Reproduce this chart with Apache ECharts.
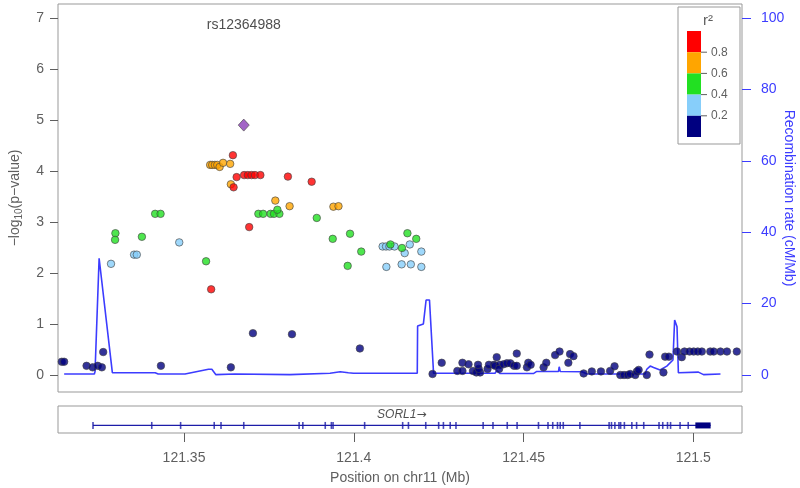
<!DOCTYPE html>
<html>
<head>
<meta charset="utf-8">
<script src="https://cdn.jsdelivr.net/npm/echarts@6/dist/echarts.min.js"></script>
<style>
html, body { margin: 0; padding: 0; background: #fff; }
#chart { width: 800px; height: 488px; }
</style>
</head>
<body>
<div id="chart"></div>
<script>
// SNPs: [position (Mb), -log10(p)] grouped by r2 with the index SNP
const snpsR2_0 = [
  [121.3140, 0.26], [121.3147, 0.26], [121.3213, 0.18], [121.3231, 0.15], [121.3246, 0.18],
  [121.3258, 0.15], [121.3262, 0.45], [121.3432, 0.18], [121.3638, 0.15], [121.3703, 0.82],
  [121.3818, 0.80], [121.4018, 0.52], [121.4232, 0.02], [121.4259, 0.24], [121.4305, 0.08],
  [121.4320, 0.08], [121.4320, 0.24], [121.4338, 0.21], [121.4351, 0.08], [121.4361, 0.05],
  [121.4372, 0.05], [121.4368, 0.12], [121.4366, 0.20], [121.4394, 0.12], [121.4398, 0.20],
  [121.4413, 0.20], [121.4421, 0.35], [121.4416, 0.18], [121.4430, 0.20], [121.4428, 0.12],
  [121.4441, 0.21], [121.4451, 0.23], [121.4461, 0.23], [121.4472, 0.18], [121.4480, 0.18],
  [121.4480, 0.42], [121.4510, 0.15], [121.4514, 0.24], [121.4521, 0.20], [121.4559, 0.15],
  [121.4567, 0.24], [121.4593, 0.39], [121.4606, 0.46], [121.4632, 0.24], [121.4637, 0.41],
  [121.4647, 0.37], [121.4677, 0.03], [121.4701, 0.07], [121.4728, 0.07], [121.4755, 0.08],
  [121.4768, 0.17], [121.4785, 0.00], [121.4796, 0.00], [121.4807, 0.00], [121.4814, 0.02],
  [121.4829, 0.00], [121.4834, 0.07], [121.4839, 0.10], [121.4863, 0.00], [121.4871, 0.40],
  [121.4912, 0.05], [121.4917, 0.36], [121.4928, 0.36], [121.4952, 0.46], [121.4966, 0.35],
  [121.4974, 0.46], [121.4989, 0.46], [121.5001, 0.46], [121.5013, 0.46], [121.5025, 0.46],
  [121.5050, 0.46], [121.5060, 0.46], [121.5080, 0.46], [121.5099, 0.46], [121.5128, 0.46]
];
const snpsR2_2 = [
  [121.3285, 2.18], [121.3353, 2.36], [121.3361, 2.36], [121.3486, 2.60], [121.4085, 2.52],
  [121.4095, 2.52], [121.4105, 2.52], [121.4120, 2.52], [121.4165, 2.56], [121.4150, 2.39],
  [121.4199, 2.42], [121.4096, 2.12], [121.4141, 2.17], [121.4168, 2.17], [121.4199, 2.12]
];
const snpsR2_4 = [
  [121.3298, 2.78], [121.3297, 2.65], [121.3376, 2.71], [121.3415, 3.16], [121.3431, 3.16],
  [121.3565, 2.23], [121.3719, 3.16], [121.3733, 3.16], [121.3755, 3.16], [121.3765, 3.16],
  [121.3781, 3.16], [121.3775, 3.24], [121.3891, 3.08], [121.3938, 2.67], [121.3989, 2.77],
  [121.4022, 2.42], [121.3982, 2.14], [121.4108, 2.56], [121.4142, 2.49], [121.4158, 2.78],
  [121.4184, 2.67]
];
const snpsR2_6 = [
  [121.3577, 4.12], [121.3583, 4.12], [121.3591, 4.12], [121.3598, 4.12], [121.3605, 4.08],
  [121.3615, 4.16], [121.3636, 4.14], [121.3638, 3.74], [121.3769, 3.42], [121.3811, 3.31],
  [121.3940, 3.30], [121.3955, 3.31]
];
const snpsR2_8 = [
  [121.3580, 1.68], [121.3644, 4.31], [121.3655, 3.88], [121.3646, 3.68], [121.3677, 3.92],
  [121.3688, 3.92], [121.3699, 3.92], [121.3709, 3.92], [121.3725, 3.92], [121.3692, 2.90],
  [121.3806, 3.89], [121.3876, 3.79]
];
const indexSnpName = "rs12364988";
const indexSnp = [121.3676, 4.90];

// recombination rate (cM/Mb)
const recombRate = [
  [121.3147, 0.3], [121.3236, 0.3], [121.3238, 1], [121.3250, 32.7], [121.3289, 0.65],
  [121.3415, 0.65], [121.3424, 0.3], [121.3503, 0.3], [121.3572, 1.6], [121.3582, 1.6],
  [121.3594, 0.1], [121.3650, 0.3], [121.3812, 0.1], [121.3930, 0.5], [121.3960, 0.9],
  [121.3984, 0.65], [121.3999, 0.5], [121.4187, 0.5], [121.4188, 13.7], [121.4205, 14.3],
  [121.4213, 21], [121.4223, 21], [121.4235, 0.5], [121.4416, 0.5], [121.4421, 1.2],
  [121.4431, 0.4], [121.4529, 0.4], [121.4539, 1.0], [121.4603, 1.0], [121.4605, 2.3],
  [121.4608, 1.0], [121.4672, 0.9], [121.4687, 0.3], [121.4858, 0.3], [121.4863, 1.6],
  [121.4873, 2.5], [121.4883, 2.1], [121.4902, 1.4], [121.4922, 2.5], [121.4940, 4.2],
  [121.4945, 15.4], [121.4952, 13.5], [121.4956, 0.65], [121.5015, 0.8], [121.5030, 0.1],
  [121.5080, 0.3]
];

// gene track
const geneName = "SORL1";
const geneStart = 121.3232;
const geneEnd = 121.5051;
const exons = [
  121.3232, 121.3405, 121.3490, 121.3589, 121.3609, 121.3676, 121.3839, 121.3850, 121.3916,
  121.3934, 121.3939, 121.4032, 121.4144, 121.4161, 121.4212, 121.4250, 121.4264, 121.4284,
  121.4301, 121.4381, 121.4410, 121.4452, 121.4481, 121.4544, 121.4572, 121.4586, 121.4600,
  121.4608, 121.4617, 121.4666, 121.4752, 121.4759, 121.4769, 121.4781, 121.4786, 121.4797,
  121.4819, 121.4833, 121.4854, 121.4899, 121.4910, 121.4924, 121.4933, 121.4961, 121.4985
];
const lastExon = [121.5006, 121.5051];

// ticks
const xTicks = [121.35, 121.4, 121.45, 121.5];
const yTicks = [0, 1, 2, 3, 4, 5, 6, 7];
const recombTicks = [0, 20, 40, 60, 80, 100];
const r2Breaks = ["0.8", "0.6", "0.4", "0.2"];
const r2Colors = ["#ff0000", "#ffa500", "#22e022", "#87cefa", "#000080"];

const xMin = 121.31289, xMax = 121.51434;
const yMin = -0.3333, yMax = 7.2745;
const gray = "#5f5f5f";
const blue = "#3c3cff";

let myChart = echarts.init(document.getElementById("chart"));

function snpSeries(data, color) {
  return {
    type: "scatter",
    xAxisIndex: 0,
    yAxisIndex: 0,
    data: data,
    symbol: "circle",
    symbolSize: 7.5,
    itemStyle: { color: color, borderColor: "#444", borderWidth: 0.8 },
    z: 3
  };
}

// legend box drawn as graphic
let legendGraphic = [
  { type: "rect", shape: { x: 678, y: 7, width: 62, height: 137 },
    style: { fill: "#fff", stroke: "#999", lineWidth: 1 }, z: 10 },
  { type: "text", x: 708, y: 21, z: 11,
    style: { text: "r²", fill: gray, font: "15px 'Liberation Sans'", align: "center", verticalAlign: "middle" } }
];
r2Colors.forEach(function (c, i) {
  legendGraphic.push({ type: "rect", z: 11, shape: { x: 687, y: 31 + i * 21.2, width: 14, height: 21.2 },
    style: { fill: c, stroke: null } });
});
r2Breaks.forEach(function (t, i) {
  let y = 52.2 + i * 21.2;
  legendGraphic.push({ type: "line", z: 11, shape: { x1: 701, y1: y, x2: 707, y2: y },
    style: { stroke: gray, lineWidth: 1 } });
  legendGraphic.push({ type: "text", z: 11, x: 711, y: y,
    style: { text: t, fill: gray, font: "12px 'Liberation Sans'", verticalAlign: "middle" } });
});

let option = {
  animation: false,
  textStyle: { fontFamily: "'Liberation Sans', Arial, sans-serif" },
  grid: [
    { left: 58, right: 58, top: 4, height: 388, show: true, borderColor: "#999", borderWidth: 1,
      containLabel: false, outerBoundsMode: "none" },
    { left: 58, right: 58, top: 406, height: 27, show: true, borderColor: "#999", borderWidth: 1,
      containLabel: false, outerBoundsMode: "none" }
  ],
  xAxis: [
    { type: "value", gridIndex: 0, min: xMin, max: xMax, show: false },
    {
      type: "value", gridIndex: 1, min: xMin, max: xMax,
      name: "Position on chr11 (Mb)", nameLocation: "middle", nameGap: 38, nameMoveOverlap: false,
      nameTextStyle: { color: gray, fontSize: 14 },
      axisLine: { show: false },
      axisTick: { show: true, length: 9, customValues: xTicks, lineStyle: { color: gray } },
      axisLabel: { customValues: xTicks, color: gray, fontSize: 14, margin: 18 },
      splitLine: { show: false }
    }
  ],
  yAxis: [
    {
      type: "value", gridIndex: 0, min: yMin, max: yMax, position: "left",
      name: "−log{s|10}(p−value)", nameLocation: "middle", nameGap: 34, nameMoveOverlap: false,
      nameTextStyle: { color: gray, fontSize: 14, lineHeight: 18,
        rich: { s: { fontSize: 10, lineHeight: 10, verticalAlign: "bottom", color: gray } } },
      axisLine: { show: false },
      axisTick: { show: true, length: 8, customValues: yTicks, lineStyle: { color: gray } },
      axisLabel: { customValues: yTicks, color: gray, fontSize: 14, margin: 14 },
      splitLine: { show: false }
    },
    {
      type: "value", gridIndex: 0, min: yMin * 100 / 7, max: yMax * 100 / 7, position: "right",
      name: "Recombination rate (cM/Mb)", nameLocation: "middle", nameGap: 40, nameRotate: -90,
      nameMoveOverlap: false,
      nameTextStyle: { color: blue, fontSize: 14 },
      axisLine: { show: false },
      axisTick: { show: true, length: 9, customValues: recombTicks, lineStyle: { color: blue } },
      axisLabel: { customValues: recombTicks, color: blue, fontSize: 14, margin: 19 },
      splitLine: { show: false }
    },
    { type: "value", gridIndex: 1, min: 0, max: 1, show: false }
  ],
  graphic: legendGraphic,
  series: [
    {
      type: "line", xAxisIndex: 0, yAxisIndex: 1, data: recombRate,
      showSymbol: false, symbol: "none", z: 2,
      lineStyle: { color: blue, width: 1.6 }
    },
    snpSeries(snpsR2_0, r2Colors[4]),
    snpSeries(snpsR2_2, r2Colors[3]),
    snpSeries(snpsR2_4, r2Colors[2]),
    snpSeries(snpsR2_6, r2Colors[1]),
    snpSeries(snpsR2_8, r2Colors[0]),
    {
      type: "scatter", xAxisIndex: 0, yAxisIndex: 0, z: 4,
      data: [indexSnp], symbol: "diamond", symbolSize: [11, 12],
      itemStyle: { color: "#8b3fb8", borderColor: "#444", borderWidth: 0.8 }
    },
    {
      // index SNP name near the top of the panel
      type: "scatter", xAxisIndex: 0, yAxisIndex: 0, z: 4, silent: true,
      data: [[indexSnp[0], 6.86]], symbolSize: 0,
      label: { show: true, position: "inside", formatter: indexSnpName, color: "#222", fontSize: 14 }
    },
    // gene track
    {
      type: "line", xAxisIndex: 1, yAxisIndex: 2, data: [[geneStart, 0.28], [geneEnd, 0.28]],
      showSymbol: false, symbol: "none", lineStyle: { color: "#1c1ca8", width: 1.2 }
    },
    {
      type: "scatter", xAxisIndex: 1, yAxisIndex: 2,
      data: exons.map(function (x) { return [x, 0.28]; }),
      symbol: "rect", symbolSize: [1.6, 7], itemStyle: { color: "#1c1ca8" }
    },
    {
      type: "line", xAxisIndex: 1, yAxisIndex: 2,
      data: lastExon.map(function (x) { return [x, 0.28]; }),
      showSymbol: false, symbol: "none", lineStyle: { color: "#000080", width: 6, cap: "butt" }
    },
    {
      type: "scatter", xAxisIndex: 1, yAxisIndex: 2, silent: true,
      data: [[(geneStart + geneEnd) / 2, 0.68]], symbolSize: 0,
      label: { show: true, position: "inside", formatter: "{g|" + geneName + "}{a|\u2192}",
        rich: {
          g: { color: "#222", fontSize: 12, fontStyle: "italic" },
          a: { color: "#222", fontSize: 12, fontFamily: "DejaVu Sans" }
        } }
    }
  ]
};

myChart.setOption(option);
</script>
</body>
</html>
